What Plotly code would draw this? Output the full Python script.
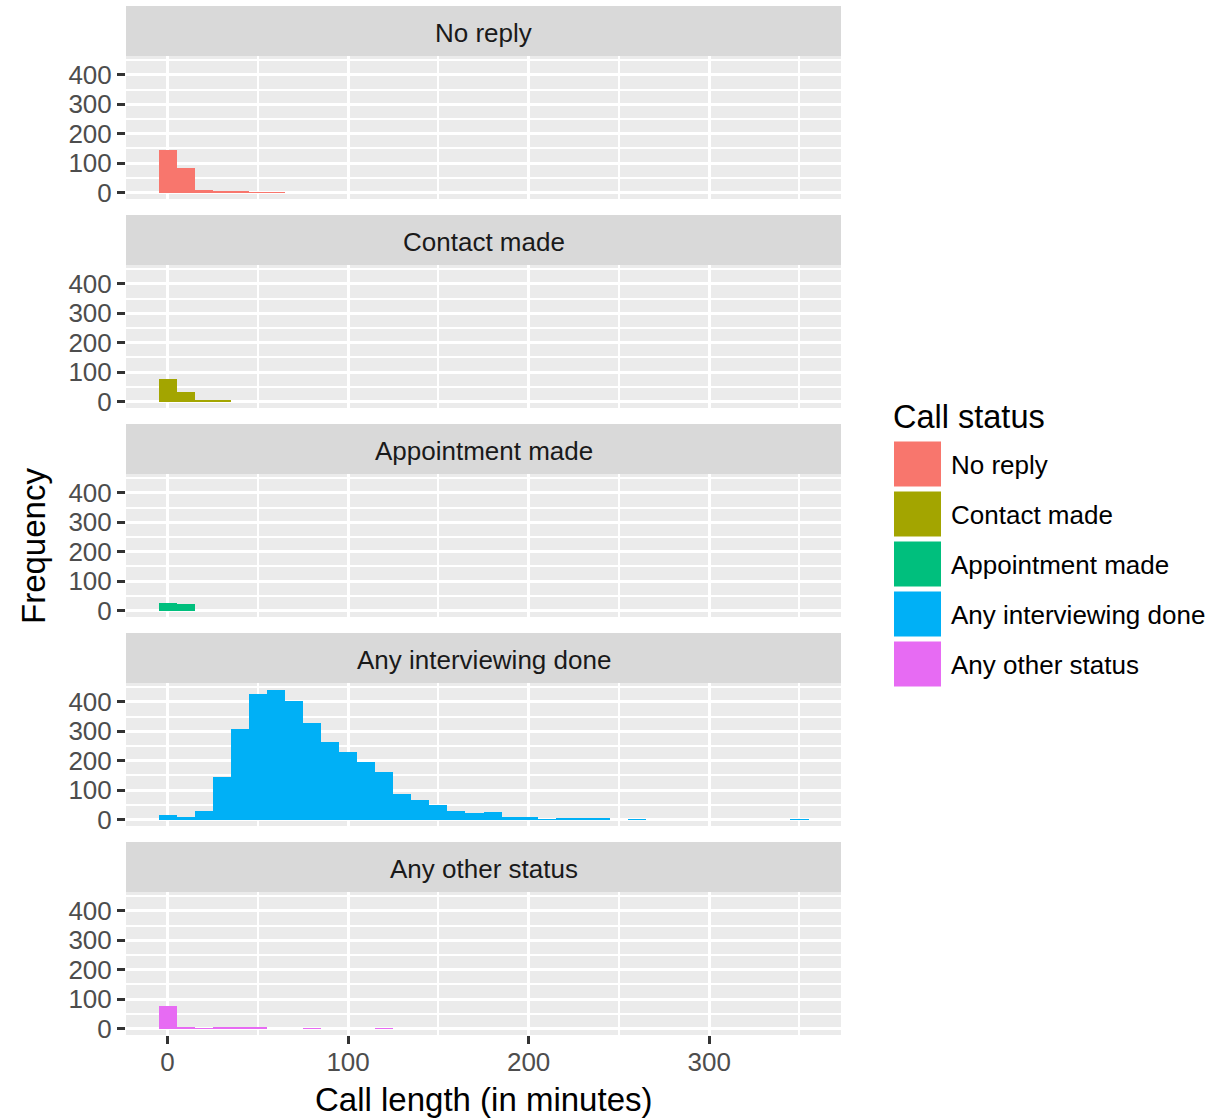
import plotly.graph_objects as go

# ---- data (bin centres in minutes, counts per bin) ----
statuses = ["No reply", "Contact made", "Appointment made", "Any interviewing done", "Any other status"]
colors = ["#F8766D", "#A3A500", "#00BF7D", "#00B0F6", "#E76BF3"]

no_reply_x = [0, 10, 20, 30, 40, 50, 60]
no_reply_n = [146, 82, 8, 3, 3, 1, 1]

contact_x = [0, 10, 20, 30]
contact_n = [77, 34, 5, 2]

appointment_x = [0, 10]
appointment_n = [27, 21]

interview_x = [0, 10, 20, 30, 40, 50, 60, 70, 80, 90, 100, 110, 120, 130, 140, 150,
               160, 170, 180, 190, 200, 210, 220, 230, 240, 260, 350]
interview_n = [17, 10, 29, 146, 309, 426, 442, 404, 329, 262, 229, 194, 163, 88, 65, 50,
               29, 23, 25, 8, 8, 1, 4, 2, 2, 1, 1]

other_x = [0, 10, 20, 30, 40, 50, 80, 120]
other_n = [77, 6, 1, 2, 2, 2, 1, 1]

series_x = [no_reply_x, contact_x, appointment_x, interview_x, other_x]
series_n = [no_reply_n, contact_n, appointment_n, interview_n, other_n]

x_ticks = [0, 100, 200, 300]
x_minor = [50, 150, 250, 350]
y_ticks = [0, 100, 200, 300, 400]
y_minor = [50, 150, 250, 350, 450]
bin_width = 10

# ---- layout geometry (pixels) ----
W, H = 1210, 1120
L, R, T, B = 126, 841, 6, 1035
PH = B - T
def py(p):
    return (B - p) / PH
def px(p):
    return (p - L) / (R - L)

FONT = "Liberation Sans, Arial, sans-serif"

fig = go.Figure()
layout = {}
shapes = []
annotations = []

for i in range(5):
    top = 56 + 209 * i
    bot = 199 + 209 * i
    xa = "x" if i == 0 else f"x{i+1}"
    ya = "y" if i == 0 else f"y{i+1}"
    fig.add_trace(go.Bar(
        x=series_x[i], y=series_n[i], width=bin_width,
        marker=dict(color=colors[i], line=dict(width=0)),
        xaxis=xa, yaxis=ya, showlegend=False, name=statuses[i]))
    last = (i == 4)
    layout["xaxis" if i == 0 else f"xaxis{i+1}"] = dict(
        domain=[0, 1], anchor=ya, range=[-23, 373], tickmode="array", tickvals=x_ticks,
        showgrid=True, gridcolor="white", gridwidth=3, zeroline=False,
        showticklabels=last, ticks="outside" if last else "", ticklen=8, tickwidth=2.5,
        tickcolor="#333333", tickfont=dict(size=26, color="#4D4D4D", family=FONT),
        ticklabelstandoff=-4,
        minor=dict(tickmode="array", tickvals=x_minor, showgrid=True, gridcolor="white", gridwidth=1.5, ticks=""),
        showline=False, fixedrange=True,
        **({} if i == 0 else {"matches": "x"}))
    layout["yaxis" if i == 0 else f"yaxis{i+1}"] = dict(
        domain=[py(bot), py(top)], anchor=xa, range=[-22.1, 464.1], tickmode="array", tickvals=y_ticks,
        showgrid=True, gridcolor="white", gridwidth=3, zeroline=False,
        ticks="outside", ticklen=8, tickwidth=2.5, tickcolor="#333333",
        tickfont=dict(size=26, color="#4D4D4D", family=FONT),
        minor=dict(tickmode="array", tickvals=y_minor, showgrid=True, gridcolor="white", gridwidth=1.5, ticks=""),
        showline=False, fixedrange=True)
    # strip
    shapes.append(dict(type="rect", xref="paper", yref="paper", x0=0, x1=1,
                       y0=py(top), y1=py(6 + 209 * i), fillcolor="#D9D9D9", line=dict(width=0), layer="below"))
    annotations.append(dict(xref="paper", yref="paper", x=0.5, y=py(33 + 209 * i), text=statuses[i],
                            showarrow=False, xanchor="center", yanchor="middle",
                            font=dict(size=26, color="#1A1A1A", family=FONT)))

# axis titles
annotations.append(dict(xref="paper", yref="paper", x=px(483.5), y=py(1099), text="Call length (in minutes)",
                        showarrow=False, xanchor="center", yanchor="middle",
                        font=dict(size=33, color="black", family=FONT)))
annotations.append(dict(xref="paper", yref="paper", x=px(33), y=py(546), text="Frequency", textangle=-90,
                        showarrow=False, xanchor="center", yanchor="middle",
                        font=dict(size=33, color="black", family=FONT)))

# legend (drawn manually)
annotations.append(dict(xref="paper", yref="paper", x=px(891), y=py(417), text="Call status",
                        showarrow=False, xanchor="left", yanchor="middle",
                        font=dict(size=32.5, color="black", family=FONT)))
for i, (s, c) in enumerate(zip(statuses, colors)):
    t = 441.5 + 50 * i
    shapes.append(dict(type="rect", xref="paper", yref="paper", x0=px(894), x1=px(941),
                       y0=py(t + 45), y1=py(t), fillcolor=c, line=dict(width=0)))
    annotations.append(dict(xref="paper", yref="paper", x=px(949), y=py(t + 23), text=s,
                            showarrow=False, xanchor="left", yanchor="middle",
                            font=dict(size=26, color="black", family=FONT)))

fig.update_layout(
    width=W, height=H, margin=dict(l=L, r=W - R, t=T, b=H - B, pad=0),
    paper_bgcolor="white", plot_bgcolor="#EBEBEB",
    bargap=0, barmode="overlay", showlegend=False,
    shapes=shapes, annotations=annotations,
    font=dict(family=FONT), **layout)

fig.write_html("out.html")
